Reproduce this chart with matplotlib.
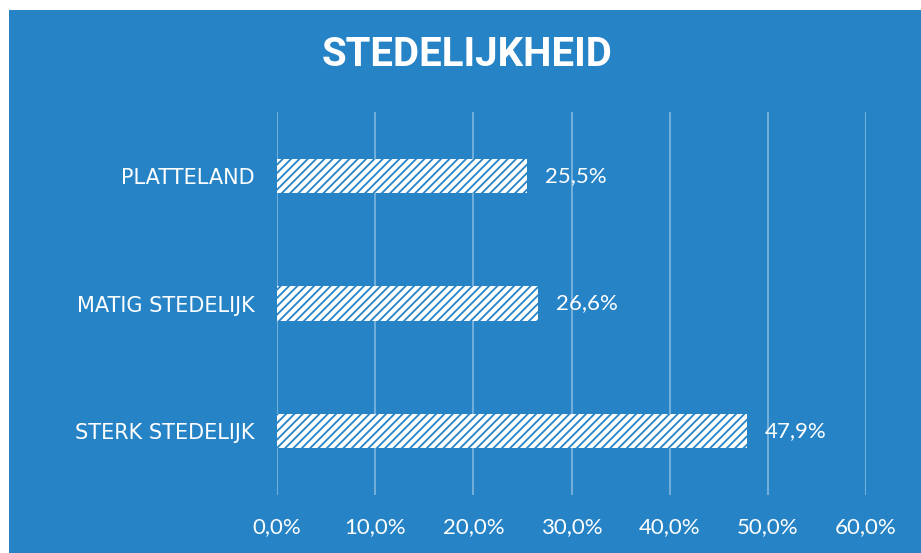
import matplotlib.pyplot as plt
from matplotlib.patches import Rectangle
from matplotlib.ticker import FuncFormatter

categorieen = ["STERK STEDELIJK", "MATIG STEDELIJK", "PLATTELAND"]
waarden = [47.9, 26.6, 25.5]
x_ticks = [0, 10, 20, 30, 40, 50, 60]

blauw = "#2683c6"
plt.rcParams["hatch.linewidth"] = 1.3

fig = plt.figure(figsize=(9.21, 5.53), dpi=100, facecolor="white")
# blauwe achtergrond met witte rand links en boven
fig.patches.append(Rectangle((9 / 921, 0), 1, 1 - 10 / 553, transform=fig.transFigure,
                             facecolor=blauw, edgecolor="none", zorder=-10))

ax = fig.add_axes([277 / 921, 1 - 495 / 553, (866 - 277) / 921, (495 - 112) / 553])
ax.set_facecolor("none")
ax.set_zorder(1)

ypos = range(len(categorieen))
ax.barh(ypos, waarden, height=0.27, color="white", edgecolor=blauw, linewidth=0,
        hatch="////", zorder=3)

for y, v in zip(ypos, waarden):
    ax.text(v + 1.8, y, f"{v:.1f}%".replace(".", ","), color="white", fontsize=16,
            va="center", ha="left", family="Lato")

ax.set_xlim(0, 60)
ax.set_ylim(-0.5, 2.5)
ax.set_xticks(x_ticks)
ax.xaxis.set_major_formatter(FuncFormatter(lambda v, p: f"{v:.1f}%".replace(".", ",")))
ax.set_yticks(list(ypos))
ax.set_yticklabels(categorieen)
ax.tick_params(axis="x", colors="white", labelsize=16, length=0, pad=16)
ax.tick_params(axis="y", colors="white", labelsize=15, length=0, pad=16)
for lab in ax.get_xticklabels():
    lab.set_family("Lato")
for lab in ax.get_yticklabels():
    lab.set_family("DejaVu Sans")

ax.grid(axis="x", color="white", alpha=0.35, linewidth=1.5, zorder=0)
for s in ax.spines.values():
    s.set_visible(False)

fig.text(467 / 921, 1 - 55 / 553, "STEDELIJKHEID", color="white", fontsize=29,
         fontweight="bold", ha="center", va="center", family="Roboto")

fig.savefig("out.png", dpi=100, facecolor="white")
